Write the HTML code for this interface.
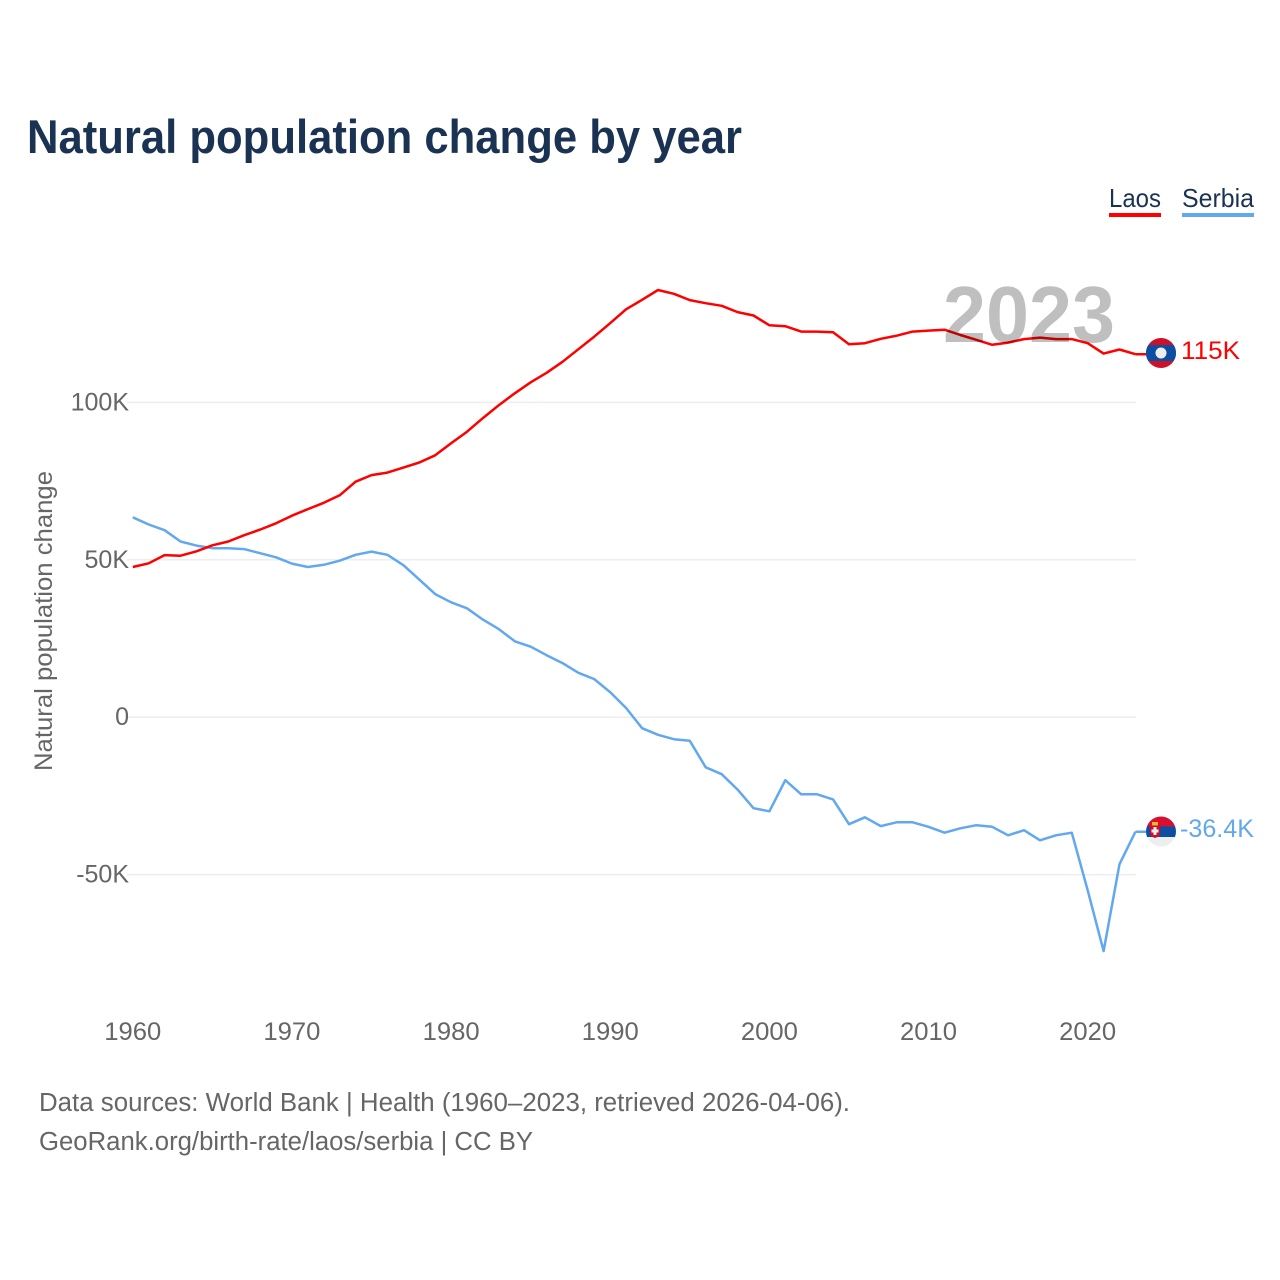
<!DOCTYPE html>
<html lang="en">
<head>
<meta charset="utf-8">
<title>Natural population change by year</title>
<style>
html,body{margin:0;padding:0;background:#fff;width:1280px;height:1280px;overflow:hidden}
svg{display:block}
text{font-family:"Liberation Sans",sans-serif}
</style>
</head>
<body>
<svg id="chart" xmlns="http://www.w3.org/2000/svg" width="1280" height="1280" viewBox="0 0 1280 1280">
  <defs>
    <clipPath id="flag-clip-laos"><circle cx="1161" cy="353" r="15"/></clipPath>
    <clipPath id="flag-clip-serbia"><circle cx="1161" cy="831.5" r="15"/></clipPath>
  </defs>
  <text x="27" y="153" font-size="47" font-weight="700" fill="#1a3352" textLength="715" lengthAdjust="spacingAndGlyphs">Natural population change by year</text>
  <g>
    <g>
      <text x="1109" y="207" font-size="26" fill="#1a3352" textLength="52" lengthAdjust="spacingAndGlyphs">Laos</text>
      <rect x="1109" y="213" width="52" height="4" fill="#ff0000"/>
    </g>
    <g>
      <text x="1182" y="207" font-size="26" fill="#1a3352" textLength="72" lengthAdjust="spacingAndGlyphs">Serbia</text>
      <rect x="1182" y="213" width="72" height="4" fill="#62a8ee"/>
    </g>
  </g>
  <g id="grid"></g>
  <g id="y-ticks"></g>
  <g id="x-ticks"></g>
  <text transform="translate(52 621) rotate(-90)" text-anchor="middle" font-size="25" fill="#666666" textLength="300" lengthAdjust="spacingAndGlyphs">Natural population change</text>
  <g id="series"></g>
  <text x="943" y="342" font-size="80" font-weight="700" fill="#000000" fill-opacity="0.25" textLength="172" lengthAdjust="spacingAndGlyphs">2023</text>
  <g clip-path="url(#flag-clip-laos)">
    <rect x="1146" y="338" width="30" height="30" fill="#ce1126"/>
    <rect x="1146" y="345" width="30" height="16" fill="#0b4ea2"/>
    <circle cx="1161" cy="353" r="5.5" fill="#eeeeee"/>
  </g>
  <g clip-path="url(#flag-clip-serbia)">
    <rect x="1146" y="816" width="30" height="10.5" fill="#d80f2e"/>
    <rect x="1146" y="826.5" width="30" height="10.5" fill="#0b4ea2"/>
    <rect x="1146" y="837" width="30" height="11" fill="#eeeeee"/>
    <rect x="1152" y="822" width="6" height="3.500" fill="#f0b429"/>
    <path d="M1150 825.500h10v8q0 3-5 4.500q-5-1.500-5-4.500z" fill="#c8102e"/>
    <rect x="1153.500" y="827" width="3" height="8" fill="#eeeeee"/>
    <rect x="1151.500" y="829.500" width="7" height="3" fill="#eeeeee"/>
  </g>
  <text id="end-label-laos" x="1181" y="359" font-size="25" fill="#ff0000" textLength="59" lengthAdjust="spacingAndGlyphs"></text>
  <text id="end-label-serbia" x="1180" y="837" font-size="25" fill="#62a8ee" textLength="74" lengthAdjust="spacingAndGlyphs"></text>
  <text x="39" y="1111" font-size="25.500" fill="#666666" textLength="811" lengthAdjust="spacingAndGlyphs">Data sources: World Bank | Health (1960–2023, retrieved 2026-04-06).</text>
  <text x="39" y="1150" font-size="25.500" fill="#666666" textLength="494" lengthAdjust="spacingAndGlyphs">GeoRank.org/birth-rate/laos/serbia | CC BY</text>
</svg>
<script>
const startYear = 1960;
const laosValues = [47.7,48.9,51.5,51.3,52.7,54.6,55.8,57.8,59.6,61.6,64.0,66.1,68.1,70.5,74.8,76.9,77.7,79.3,80.9,83.2,87.0,90.7,95.0,99.1,102.9,106.4,109.4,112.9,116.9,120.9,125.2,129.6,132.6,135.7,134.5,132.5,131.5,130.7,128.7,127.6,124.5,124.2,122.5,122.5,122.3,118.5,118.8,120.2,121.2,122.5,122.8,123.1,121.4,119.9,118.3,119.0,120.1,120.6,120.1,120.1,118.8,115.5,116.8,115.3];
const serbiaValues = [63.5,61.2,59.4,55.8,54.5,53.7,53.7,53.4,52.1,50.8,48.8,47.7,48.4,49.7,51.6,52.6,51.6,48.3,43.7,39.1,36.5,34.6,31.0,28.0,24.1,22.4,19.7,17.2,14.1,12.1,7.9,2.9,-3.5,-5.6,-7.0,-7.5,-15.9,-18.1,-23.0,-28.9,-29.9,-20.0,-24.5,-24.5,-26.1,-34.0,-31.8,-34.6,-33.4,-33.4,-34.8,-36.7,-35.3,-34.3,-34.8,-37.5,-35.9,-39.1,-37.5,-36.7,-55.0,-74.3,-46.7,-36.4];
const yTickValues = [100,50,0,-50];
const yTickLabels = ["100K","50K","0","-50K"];
const xTickYears = [1960,1970,1980,1990,2000,2010,2020];
const laosEndLabel = "115K";
const serbiaEndLabel = "-36.4K";

const NS = "http://www.w3.org/2000/svg";
function xScale(year){ return 132.8 + (year - 1960) * 15.915; }
function yScale(value){ return 717.2 - value * 3.148; }
function make(tag, attrs, parent){
  const el = document.createElementNS(NS, tag);
  for (const k in attrs) el.setAttribute(k, attrs[k]);
  parent.appendChild(el);
  return el;
}
const gridGroup = document.getElementById("grid");
const yGroup = document.getElementById("y-ticks");
const xGroup = document.getElementById("x-ticks");
const seriesGroup = document.getElementById("series");

yTickValues.forEach(function(v, i){
  const line = make("line", {x1:127, x2:1136, y1:yScale(v), y2:yScale(v), stroke:"#eeeeee", "stroke-width":1.5}, gridGroup);
  
  
  const label = make("text", {x:129, y:yScale(v)+8, "text-anchor":"end", "font-size":25, fill:"#666666"}, yGroup);
  
  
  label.textContent = yTickLabels[i];
});
xTickYears.forEach(function(y){
  const label = make("text", {x:xScale(y), y:1040, "text-anchor":"middle", "font-size":25, fill:"#666666", textLength:57, lengthAdjust:"spacingAndGlyphs"}, xGroup);
  
  
  label.textContent = y;
});
function linePath(values){
  return values.map(function(v, i){
    return (i ? "L" : "M") + xScale(startYear + i).toFixed(1) + " " + yScale(v).toFixed(1);
  }).join("");
}
function connectorPath(values){
  const last = values[values.length - 1];
  const y = yScale(last).toFixed(1);
  return "M" + xScale(startYear + values.length - 1).toFixed(1) + " " + y + "H1146";
}
const serbiaLine = make("path", {d:linePath(serbiaValues) + connectorPath(serbiaValues), fill:"none", stroke:"#62a8ee", "stroke-width":2.500, "stroke-linejoin":"round"}, seriesGroup);


const laosLine = make("path", {d:linePath(laosValues) + connectorPath(laosValues), fill:"none", stroke:"#ff0000", "stroke-width":2.500, "stroke-linejoin":"round"}, seriesGroup);


document.getElementById("end-label-laos").textContent = laosEndLabel;
document.getElementById("end-label-serbia").textContent = serbiaEndLabel;
</script>
</body>
</html>
